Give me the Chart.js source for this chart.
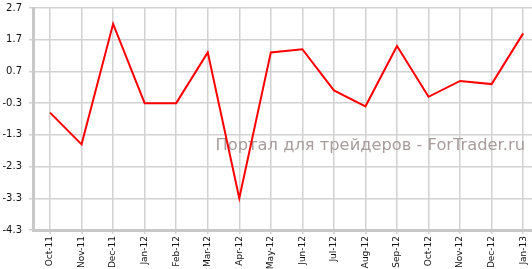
<!DOCTYPE html>
<html>
<head>
<meta charset="utf-8">
<script src="https://cdn.jsdelivr.net/npm/chart.js@4/dist/chart.umd.min.js"></script>
<style>
    body { margin: 0; background: #fff; }
    canvas { display: block; }
</style>
</head>
<body>
<canvas id="chart" width="532" height="269"></canvas>
<script>
const months = ['Oct-11', 'Nov-11', 'Dec-11', 'Jan-12', 'Feb-12', 'Mar-12', 'Apr-12', 'May-12',
    'Jun-12', 'Jul-12', 'Aug-12', 'Sep-12', 'Oct-12', 'Nov-12', 'Dec-12', 'Jan-13'];
const values = [-0.6, -1.6, 2.2, -0.3, -0.3, 1.3, -3.3, 1.3, 1.4, 0.1, -0.4, 1.5, -0.1, 0.4, 0.3, 1.9];
const yTicks = [-4.3, -3.3, -2.3, -1.3, -0.3, 0.7, 1.7, 2.7];
const watermark = 'Портал для трейдеров - ForTrader.ru';

const gridColor = '#d2d2d2';
const axisColor = '#c8c8c8';

// watermark goes under the line
const watermarkPlugin = {
    id: 'watermark',
    beforeDatasetsDraw(chart) {
        const { ctx } = chart;
        ctx.save();
        ctx.font = '16.3px "DejaVu Sans"';
        ctx.fillStyle = '#a89c9c';
        ctx.textAlign = 'right';
        ctx.textBaseline = 'middle';
        ctx.fillText(watermark, 525, 146);
        ctx.restore();
    },
};

new Chart(document.getElementById('chart'), {
    type: 'line',
    data: {
        datasets: [{
            data: values.map((v, i) => ({ x: i, y: v })),
            borderColor: '#ff0000',
            borderWidth: 2,
            pointRadius: 0,
            tension: 0,
        }],
    },
    plugins: [watermarkPlugin],
    options: {
        responsive: false,
        animation: false,
        layout: { padding: { top: 8, right: 0, left: 0, bottom: 0 } },
        plugins: { legend: { display: false }, tooltip: { enabled: false } },
        scales: {
            x: {
                type: 'linear',
                min: -0.54,
                max: 15.28,
                afterBuildTicks: scale => {
                    scale.ticks = months.map((_, i) => ({ value: i }));
                },
                afterFit: scale => {
                    scale.height = 39;
                    scale.paddingLeft = 0;
                    scale.paddingRight = 0;
                },
                ticks: {
                    autoSkip: false,
                    minRotation: 90,
                    maxRotation: 90,
                    padding: 2,
                    color: '#111',
                    font: { family: 'DejaVu Sans', size: 9 },
                    callback: value => months[value],
                },
                grid: { color: gridColor, lineWidth: 1.5, tickLength: 4 },
                border: { color: axisColor, width: 3 },
            },
            y: {
                min: -4.3,
                max: 2.7,
                afterBuildTicks: scale => {
                    scale.ticks = yTicks.map(v => ({ value: v }));
                },
                afterFit: scale => {
                    scale.width = 33;
                    scale.paddingTop = 0;
                    scale.paddingBottom = 0;
                },
                ticks: {
                    padding: 7,
                    color: '#111',
                    font: { family: 'DejaVu Sans', size: 10 },
                    callback: value => value.toFixed(1),
                },
                grid: { color: gridColor, lineWidth: 1.5, tickLength: 4 },
                border: { color: axisColor, width: 3 },
            },
        },
    },
});
</script>
</body>
</html>
